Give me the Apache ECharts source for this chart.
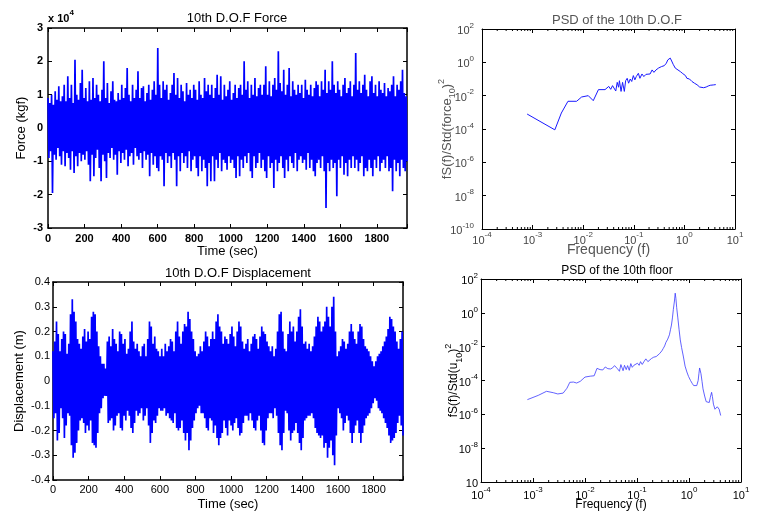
<!DOCTYPE html>
<html><head><meta charset="utf-8">
<script src="https://cdn.jsdelivr.net/npm/echarts@6/dist/echarts.min.js"></script>
<style>html,body{margin:0;padding:0;background:#fff}#c{width:757px;height:512px}</style>
</head><body><div id="c"></div>
<script>
// ---- data ----
const timeEnd = 1965;            // sec, end of record
// 10th D.O.F force (x 10^4 kgf), alternating local max / min
const force = [
 0.9,-0.9, 0.75,-0.7, 1.0,-1.95, 0.7,-0.8, 1.1,-0.95, 0.85,-0.6, 1.25,-0.85, 0.8,-1.1, 0.95,-0.7, 1.3,-1.15,
 0.8,-0.75, 1.55,-0.9, 0.9,-1.25, 1.3,-0.7, 0.75,-1.35, 2.05,-0.85, 1.0,-1.15, 0.85,-0.75, 1.35,-1.0, 1.75,-0.8,
 0.9,-0.95, 1.2,-0.7, 0.8,-1.1, 1.4,-1.6, 0.85,-0.8, 1.5,-1.45, 0.9,-0.9, 1.3,-0.65, 1.0,-1.2, 0.8,-1.6,
 1.15,-0.8, 2.0,-1.0, 0.9,-1.5, 1.35,-0.75, 0.75,-0.9, 1.1,-0.6, 1.4,-0.95, 0.85,-0.8, 0.8,-1.4, 1.05,-0.7,
 0.85,-1.05, 1.3,-0.75, 0.9,-0.95, 1.2,-0.65, 1.8,-1.15, 1.0,-0.85, 0.8,-0.75, 1.3,-1.1, 0.9,-0.6, 1.15,-0.85,
 1.7,-0.95, 0.9,-0.75, 1.2,-1.2, 1.25,-0.7, 0.8,-0.95, 1.05,-0.8, 1.3,-1.45, 0.85,-0.75, 1.15,-1.1, 1.4,-0.85,
 1.0,-1.2, 2.4,-1.3, 1.3,-0.85, 0.9,-0.95, 1.4,-1.75, 1.15,-0.75, 1.3,-1.05, 0.85,-0.85, 1.05,-1.2, 1.3,-0.75,
 1.65,-0.95, 1.0,-1.75, 1.5,-0.85, 0.9,-1.3, 1.3,-0.75, 1.1,-1.05, 0.8,-0.85, 1.35,-1.2, 1.0,-0.7, 1.15,-1.3,
 0.9,-0.95, 1.3,-0.85, 1.15,-1.2, 0.85,-1.45, 1.4,-0.85, 1.0,-1.3, 0.9,-0.95, 1.5,-1.2, 1.1,-1.75, 1.3,-1.05,
 1.0,-1.6, 1.3,-0.85, 0.9,-1.6, 1.2,-0.95, 1.6,-1.2, 1.0,-0.75, 1.55,-1.3, 0.85,-0.95, 1.3,-1.05, 0.95,-1.25,
 1.15,-0.85, 1.4,-1.05, 0.85,-0.95, 1.05,-1.2, 1.3,-1.5, 0.9,-0.85, 1.2,-1.45, 1.3,-0.95, 1.0,-1.2, 2.0,-0.85,
 1.15,-1.05, 1.4,-0.75, 0.9,-1.3, 1.3,-1.5, 1.0,-0.85, 1.5,-1.2, 0.95,-1.05, 1.2,-0.75, 1.3,-1.2, 1.0,-0.95,
 1.3,-1.3, 1.85,-1.5, 1.0,-0.85, 1.4,-1.2, 0.95,-1.05, 1.3,-1.8, 1.5,-0.95, 1.15,-1.3, 2.3,-1.05, 1.35,-0.85,
 1.1,-1.2, 1.75,-1.5, 1.0,-0.95, 1.3,-1.3, 1.8,-0.85, 0.95,-1.05, 1.4,-1.2, 1.15,-0.75, 1.0,-1.3, 1.3,-0.95,
 1.05,-0.85, 1.3,-1.05, 0.9,-0.95, 1.45,-1.25, 1.15,-0.75, 1.0,-1.2, 1.3,-0.95, 0.95,-1.3, 1.2,-1.45, 1.4,-1.05,
 1.3,-0.95, 0.95,-1.2, 1.4,-0.85, 1.15,-1.3, 1.75,-2.4, 1.05,-1.05, 1.4,-1.3, 1.15,-0.95, 2.0,-1.2, 1.3,-1.05,
 1.05,-2.05, 1.4,-0.95, 1.15,-1.2, 0.95,-0.85, 1.3,-1.4, 1.5,-1.05, 1.05,-1.45, 1.2,-0.95, 1.4,-1.2, 0.95,-0.85,
 1.3,-1.2, 2.25,-0.95, 1.15,-1.3, 1.4,-1.05, 1.05,-0.85, 1.3,-1.45, 1.6,-1.2, 1.15,-1.3, 0.95,-0.95, 1.4,-1.2,
 1.55,-1.45, 1.05,-0.95, 1.3,-1.2, 0.95,-0.85, 1.4,-1.3, 1.15,-1.05, 1.05,-0.95, 1.35,-1.2, 0.95,-0.85, 1.2,-1.3,
 1.1,-1.2, 1.3,-1.9, 1.55,-0.95, 0.95,-1.3, 1.3,-1.05, 1.15,-1.45, 1.4,-0.95, 1.75,-1.2, 1.05,-1.3, 0.95,-1.0
];
// 10th D.O.F displacement (m), alternating local max / min
const disp = [
 0.12,-0.15, 0.16,-0.13, 0.24,-0.24, 0.19,-0.21, 0.12,-0.11, 0.17,-0.15, 0.2,-0.23, 0.19,-0.18, 0.11,-0.13, 0.15,-0.14,
 0.27,-0.26, 0.33,-0.31, 0.28,-0.29, 0.24,-0.25, 0.17,-0.2, 0.15,-0.16, 0.13,-0.15, 0.18,-0.17, 0.21,-0.21, 0.16,-0.18,
 0.2,-0.2, 0.17,-0.16, 0.26,-0.25, 0.28,-0.26, 0.27,-0.27, 0.2,-0.21, 0.14,-0.13, 0.1,-0.11, 0.07,-0.07, 0.07,-0.06,
 0.05,-0.06, 0.16,-0.17, 0.18,-0.16, 0.14,-0.15, 0.21,-0.2, 0.17,-0.18, 0.15,-0.14, 0.12,-0.13, 0.2,-0.19, 0.19,-0.2,
 0.15,-0.14, 0.17,-0.16, 0.11,-0.12, 0.13,-0.14, 0.2,-0.19, 0.24,-0.21, 0.16,-0.17, 0.13,-0.12, 0.15,-0.14, 0.12,-0.13,
 0.1,-0.11, 0.14,-0.16, 0.15,-0.14, 0.1,-0.11, 0.17,-0.18, 0.24,-0.25, 0.22,-0.21, 0.15,-0.16, 0.18,-0.17, 0.13,-0.14,
 0.12,-0.11, 0.1,-0.12, 0.13,-0.12, 0.1,-0.11, 0.15,-0.14, 0.12,-0.13, 0.14,-0.15, 0.17,-0.16, 0.16,-0.17, 0.12,-0.13,
 0.2,-0.19, 0.24,-0.2, 0.18,-0.19, 0.15,-0.16, 0.2,-0.21, 0.23,-0.24, 0.22,-0.21, 0.28,-0.28, 0.25,-0.24, 0.2,-0.19,
 0.17,-0.16, 0.12,-0.13, 0.1,-0.11, 0.11,-0.1, 0.14,-0.13, 0.12,-0.13, 0.16,-0.15, 0.2,-0.19, 0.18,-0.2, 0.14,-0.15,
 0.17,-0.16, 0.2,-0.21, 0.17,-0.18, 0.24,-0.23, 0.27,-0.26, 0.22,-0.23, 0.2,-0.21, 0.15,-0.16, 0.18,-0.19, 0.17,-0.22,
 0.15,-0.16, 0.19,-0.18, 0.22,-0.2, 0.18,-0.17, 0.14,-0.15, 0.2,-0.19, 0.24,-0.22, 0.22,-0.21, 0.16,-0.17, 0.13,-0.14,
 0.15,-0.14, 0.17,-0.16, 0.12,-0.13, 0.15,-0.16, 0.18,-0.19, 0.19,-0.2, 0.17,-0.16, 0.13,-0.14, 0.18,-0.2, 0.22,-0.25,
 0.2,-0.26, 0.19,-0.2, 0.16,-0.15, 0.14,-0.13, 0.12,-0.13, 0.14,-0.15, 0.1,-0.11, 0.13,-0.14, 0.2,-0.21, 0.27,-0.26,
 0.28,-0.28, 0.2,-0.21, 0.13,-0.12, 0.12,-0.13, 0.19,-0.2, 0.24,-0.24, 0.2,-0.21, 0.22,-0.2, 0.16,-0.17, 0.2,-0.21,
 0.26,-0.25, 0.29,-0.28, 0.22,-0.23, 0.15,-0.16, 0.16,-0.15, 0.13,-0.14, 0.15,-0.14, 0.12,-0.13, 0.14,-0.15, 0.18,-0.19,
 0.22,-0.21, 0.26,-0.22, 0.24,-0.23, 0.2,-0.22, 0.22,-0.27, 0.24,-0.25, 0.3,-0.31, 0.26,-0.27, 0.22,-0.24, 0.3,-0.3,
 0.34,-0.34, 0.2,-0.22, 0.1,-0.11, 0.12,-0.13, 0.14,-0.15, 0.17,-0.2, 0.16,-0.17, 0.13,-0.14, 0.15,-0.16, 0.2,-0.21,
 0.23,-0.25, 0.2,-0.21, 0.17,-0.18, 0.15,-0.16, 0.2,-0.21, 0.23,-0.25, 0.22,-0.21, 0.17,-0.18, 0.14,-0.15, 0.13,-0.14,
 0.12,-0.13, 0.1,-0.11, 0.08,-0.09, 0.06,-0.07, 0.08,-0.08, 0.1,-0.11, 0.11,-0.12, 0.12,-0.13, 0.14,-0.15, 0.16,-0.17,
 0.18,-0.19, 0.21,-0.22, 0.26,-0.25, 0.25,-0.24, 0.22,-0.23, 0.2,-0.21, 0.16,-0.17, 0.13,-0.14, 0.17,-0.18, 0.2,-0.22
];
// PSD of the 10th D.O.F force
const psdForceFreq = [7.8e-4,2.75e-3,3.7e-3,5.0e-3,7.4e-3,9.3e-3,1.26e-2,1.58e-2,2.0e-2,2.7e-2,3.2e-2,3.5e-2,3.8e-2,4.1e-2,4.4e-2,4.7e-2,5.0e-2,5.2e-2,5.6e-2,6.0e-2,6.5e-2,6.9e-2,7.4e-2,7.9e-2,8.5e-2,9.1e-2,9.8e-2,0.105,0.112,0.123,0.132,0.145,0.158,0.174,0.19,0.21,0.23,0.25,0.275,0.31,0.355,0.4,0.44,0.47,0.5,0.525,0.56,0.6,0.66,0.72,0.83,0.93,1.05,1.12,1.26,1.41,1.58,1.78,2.0,2.19,2.4,2.69,2.95,3.24,3.47,3.72,3.98,4.17];
const psdForceVal  = [7.9e-4,8.9e-5,9.1e-4,4.6e-3,4.6e-3,8.3e-3,1.0e-2,5.0e-3,2.3e-2,2.3e-2,3.6e-2,2.4e-2,4.0e-2,5.0e-2,1.9e-2,6.3e-2,3.2e-2,7.9e-2,1.8e-2,6.3e-2,1.8e-2,7.9e-2,0.11,5.6e-2,0.1,7.1e-2,0.16,8.9e-2,0.14,0.22,0.11,0.2,0.14,0.19,0.25,0.2,0.35,0.25,0.35,0.46,0.56,0.63,0.89,1.4,1.12,1.8,1.2,0.76,0.45,0.35,0.28,0.21,0.16,0.11,0.1,7.1e-2,5.6e-2,4.5e-2,3.3e-2,2.8e-2,3.0e-2,3.3e-2,3.8e-2,4.2e-2,4.8e-2,4.4e-2,5.2e-2,4.6e-2];
// PSD of the 10th floor displacement
const psdDispFreq = [7.8e-4,1.26e-3,1.82e-3,2.45e-3,3.0e-3,3.8e-3,4.5e-3,5.1e-3,6.0e-3,6.9e-3,8.1e-3,1.0e-2,1.26e-2,1.5e-2,1.7e-2,1.82e-2,1.95e-2,2.2e-2,2.45e-2,2.75e-2,3.1e-2,3.4e-2,3.7e-2,4.2e-2,4.6e-2,4.9e-2,5.4e-2,5.75e-2,6.2e-2,6.6e-2,7.1e-2,7.6e-2,8.1e-2,8.7e-2,9.3e-2,0.102,0.11,0.117,0.126,0.138,0.148,0.162,0.174,0.19,0.21,0.234,0.25,0.27,0.3,0.32,0.34,0.36,0.39,0.42,0.44,0.46,0.48,0.5,0.525,0.543,0.56,0.58,0.61,0.645,0.68,0.72,0.776,0.84,0.91,0.98,1.07,1.15,1.23,1.32,1.41,1.5,1.55,1.6,1.64,1.7,1.78,1.86,2.0,2.14,2.29,2.45,2.57,2.72,2.82,2.95,3.16,3.31,3.5,3.63,3.8,4.07];
const psdDispVal  = [7.4e-6,1.32e-5,2.3e-5,1.9e-5,1.6e-5,1.8e-5,3.5e-5,7.8e-5,8.1e-5,7.1e-5,8.9e-5,1.6e-4,1.8e-4,1.9e-4,5.2e-4,4.0e-4,4.4e-4,4.2e-4,6.3e-4,5.0e-4,4.8e-4,5.6e-4,7.6e-4,5.0e-4,3.5e-4,8.7e-4,3.8e-4,7.9e-4,4.4e-4,7.6e-4,4.0e-4,1.0e-3,6.0e-4,7.9e-4,6.3e-4,1.05e-3,7.9e-4,1.3e-3,8.9e-4,1.4e-3,1.9e-3,1.3e-3,1.7e-3,2.0e-3,2.4e-3,2.6e-3,3.2e-3,3.8e-3,5.6e-3,7.9e-3,1.1e-2,1.8e-2,2.8e-2,5.0e-2,0.1,0.19,0.5,1.6,5.0,14.5,7.1,2.0,0.5,0.1,2.5e-2,8.9e-3,2.8e-3,7.1e-4,3.2e-4,1.74e-4,1.0e-4,6.8e-5,5.0e-5,4.4e-5,5.0e-5,1.0e-4,2.5e-4,5.5e-4,4.5e-4,2.5e-4,8.9e-5,3.2e-5,1.2e-5,5.6e-6,4.5e-6,5.0e-6,1.0e-5,2.0e-5,1.12e-5,4.0e-6,2.0e-6,1.74e-6,2.8e-6,3.5e-6,2.0e-6,8.5e-7];
// axis decorations
const minorMultipliers = [2,3,4,5,6,7,8,9];
const minorDecades = [1e-4,1e-3,1e-2,1e-1,1];

// ---- build ----
const FONT = '"Liberation Sans", Arial, Helvetica, sans-serif';
function timeSeries(vals){ const n = vals.length; return vals.map((v,i)=>[i*timeEnd/(n-1), v]); }
function pairs(xs, ys){ return xs.map((x,i)=>[x, ys[i]]); }
const minorTicks = [];
minorDecades.forEach(d=>minorMultipliers.forEach(m=>minorTicks.push(+(m*d).toPrecision(3))));

function supRich(color, base, sup){
  return {
    b:{fontSize:base, lineHeight:base+4, verticalAlign:'bottom', color:color, fontFamily:FONT},
    s:{fontSize:sup, lineHeight:sup+1, verticalAlign:'top', color:color, fontFamily:FONT}
  };
}
function logFmt(dropLowest){
  return function(v){
    const e = Math.round(Math.log10(v));
    if (dropLowest && e === -10) return '{b|10}';
    return '{b|10}{s|' + e + '}';
  };
}
const axisLine = (w)=>({show:true, onZero:false, lineStyle:{color:'#000', width:w}});
const tick = (len)=>({show:true, inside:true, length:len, lineStyle:{color:'#000', width:1}});

function valueAxisPair(grid, min, max, interval, lw, labelCfg, nameCfg, isX){
  const base = {type:'value', gridIndex:grid, min:min, max:max, interval:interval, splitLine:{show:false},
    axisLine:axisLine(lw), axisTick:tick(4), nameMoveOverlap:false};
  const primary = Object.assign({}, base, {position:isX?'bottom':'left', axisLabel:labelCfg}, nameCfg);
  const mirror = Object.assign({}, base, {position:isX?'top':'right', axisLabel:{show:false}});
  return [primary, mirror];
}
function logAxisPair(grid, min, max, interval, labelCfg, nameCfg, isX){
  const base = {type:'log', logBase:10, gridIndex:grid, min:min, max:max, splitLine:{show:false},
    axisLine:axisLine(1), axisTick:tick(4), minorTick:{show:false}, nameMoveOverlap:false};
  if (interval) base.interval = interval;
  const primary = Object.assign({}, base, {position:isX?'bottom':'left', axisLabel:labelCfg}, nameCfg);
  const mirror = Object.assign({}, base, {position:isX?'top':'right', axisLabel:{show:false}});
  return [primary, mirror];
}

const gray = '#555';
const xAxes = [].concat(
  valueAxisPair(0, 0, timeEnd, 200, 1.5,
    {fontSize:11, color:'#000', fontWeight:'bold', fontFamily:FONT, margin:5, formatter:v=> (v%200===0? String(v):'')},
    {name:'Time (sec)', nameLocation:'middle', nameGap:17, nameTextStyle:{fontSize:13, color:'#000', fontFamily:FONT}}, true),
  valueAxisPair(1, 0, timeEnd, 200, 1.5,
    {fontSize:11, color:'#000', fontFamily:FONT, margin:4, formatter:v=> (v%200===0? String(v):'')},
    {name:'Time (sec)', nameLocation:'middle', nameGap:18, nameTextStyle:{fontSize:13, color:'#000', fontFamily:FONT}}, true),
  logAxisPair(2, 1e-4, 10, null,
    {margin:2, formatter:logFmt(false), rich:supRich('#444', 11, 8)},
    {name:'Frequency (f)', nameLocation:'middle', nameGap:14, nameTextStyle:{fontSize:14, color:gray, fontFamily:FONT}}, true),
  logAxisPair(3, 1e-4, 10, null,
    {margin:4, formatter:logFmt(false), rich:supRich('#000', 11, 8)},
    {name:'Frequency (f)', nameLocation:'middle', nameGap:17, nameTextStyle:{fontSize:12, color:'#000', fontFamily:FONT}}, true)
);
const yAxes = [].concat(
  valueAxisPair(0, -3, 3, 1, 1.5,
    {fontSize:11, color:'#000', fontWeight:'bold', fontFamily:FONT, margin:5},
    {name:'Force (kgf)', nameLocation:'middle', nameGap:20, nameTextStyle:{fontSize:13, color:'#000', fontFamily:FONT}}, false),
  valueAxisPair(1, -0.4, 0.4, 0.1, 1.5,
    {fontSize:11, color:'#000', fontFamily:FONT, margin:3, formatter:v=> (Math.abs(v)<1e-9?'0':v.toFixed(1))},
    {name:'Displacement (m)', nameLocation:'middle', nameGap:27, nameTextStyle:{fontSize:13, color:'#000', fontFamily:FONT}}, false),
  logAxisPair(2, 1e-10, 100, 2,
    {margin:8, formatter:logFmt(false), rich:supRich('#444', 11, 8)},
    {name:'{n|fS(f)/Std(force}{sub|10}{n|)}{sup|2}', nameLocation:'middle', nameGap:25,
     nameTextStyle:{color:gray, fontFamily:FONT, rich:{
       n:{fontSize:13, lineHeight:20, verticalAlign:'middle', color:gray, fontFamily:FONT},
       sub:{fontSize:9, lineHeight:9, verticalAlign:'bottom', color:gray, fontFamily:FONT},
       sup:{fontSize:9, lineHeight:9, verticalAlign:'top', color:gray, fontFamily:FONT}}}}, false),
  logAxisPair(3, 1e-10, 100, 2,
    {margin:3, formatter:logFmt(true), rich:supRich('#000', 11, 8)},
    {name:'{n|fS(f)/Std(u}{sub|10}{n|)}{sup|2}', nameLocation:'middle', nameGap:17,
     nameTextStyle:{color:'#000', fontFamily:FONT, rich:{
       n:{fontSize:12, lineHeight:20, verticalAlign:'middle', color:'#000', fontFamily:FONT},
       sub:{fontSize:9, lineHeight:9, verticalAlign:'bottom', color:'#000', fontFamily:FONT},
       sup:{fontSize:9, lineHeight:9, verticalAlign:'top', color:'#000', fontFamily:FONT}}}}, false)
);

function minorTickSeries(xIdx, yIdx, yMin, yMax){
  return {
    type:'custom', xAxisIndex:xIdx, yAxisIndex:yIdx, silent:true, clip:false,
    data: minorTicks.map(f=>[f, yMin]),
    renderItem:function(params, api){
      const f = api.value(0);
      const pb = api.coord([f, yMin]);
      const pt = api.coord([f, yMax]);
      const st = {stroke:'#000', lineWidth:1};
      return {type:'group', children:[
        {type:'line', shape:{x1:pb[0], y1:pb[1], x2:pb[0], y2:pb[1]-2}, style:st},
        {type:'line', shape:{x1:pt[0], y1:pt[1], x2:pt[0], y2:pt[1]+2}, style:st}
      ]};
    }
  };
}

const option = {
  animation:false,
  backgroundColor:'#fff',
  textStyle:{fontFamily:FONT},
  title:[
    {text:'10th D.O.F Force', left:232, top:7, textAlign:'center', textStyle:{fontSize:13, fontWeight:'normal', color:'#000', fontFamily:FONT}},
    {text:'10th D.O.F Displacement', left:233, top:262, textAlign:'center', textStyle:{fontSize:13, fontWeight:'normal', color:'#000', fontFamily:FONT}},
    {text:'PSD of the 10th D.O.F', left:612, top:9, textAlign:'center', textStyle:{fontSize:13, fontWeight:'normal', color:gray, fontFamily:FONT}},
    {text:'PSD of the 10th floor', left:612, top:260, textAlign:'center', textStyle:{fontSize:12, fontWeight:'normal', color:'#000', fontFamily:FONT}}
  ],
  graphic:[
    {type:'text', left:48, top:9, style:{text:'{b|x 10}{s|4}', rich:{
      b:{fontSize:11, fontWeight:'bold', lineHeight:15, verticalAlign:'bottom', fill:'#000', fontFamily:FONT},
      s:{fontSize:8, fontWeight:'bold', lineHeight:9, verticalAlign:'top', fill:'#000', fontFamily:FONT}}}}
  ],
  grid:[
    {left:48, top:28, width:359, height:200},
    {left:53, top:282, width:350, height:198},
    {left:482, top:29, width:253, height:200},
    {left:481, top:279, width:260, height:204}
  ],
  xAxis:xAxes,
  yAxis:yAxes,
  series:[
    {type:'line', xAxisIndex:0, yAxisIndex:0, data:timeSeries(force), showSymbol:false, symbol:'none',
     lineStyle:{color:'#0000ff', width:1.7}, silent:true},
    {type:'line', xAxisIndex:2, yAxisIndex:2, data:timeSeries(disp), showSymbol:false, symbol:'none',
     lineStyle:{color:'#0000ff', width:1.7}, silent:true},
    {type:'line', xAxisIndex:4, yAxisIndex:4, data:pairs(psdForceFreq, psdForceVal), showSymbol:false, symbol:'none',
     lineStyle:{color:'#1a1aff', width:1}, silent:true},
    {type:'line', xAxisIndex:6, yAxisIndex:6, data:pairs(psdDispFreq, psdDispVal), showSymbol:false, symbol:'none',
     lineStyle:{color:'#3a3aff', width:0.8}, silent:true},
    minorTickSeries(4, 4, 1e-10, 100),
    minorTickSeries(6, 6, 1e-10, 100)
  ]
};
const chart = echarts.init(document.getElementById('c'), null, {renderer:'canvas'});
chart.setOption(option);
</script>
</body></html>
